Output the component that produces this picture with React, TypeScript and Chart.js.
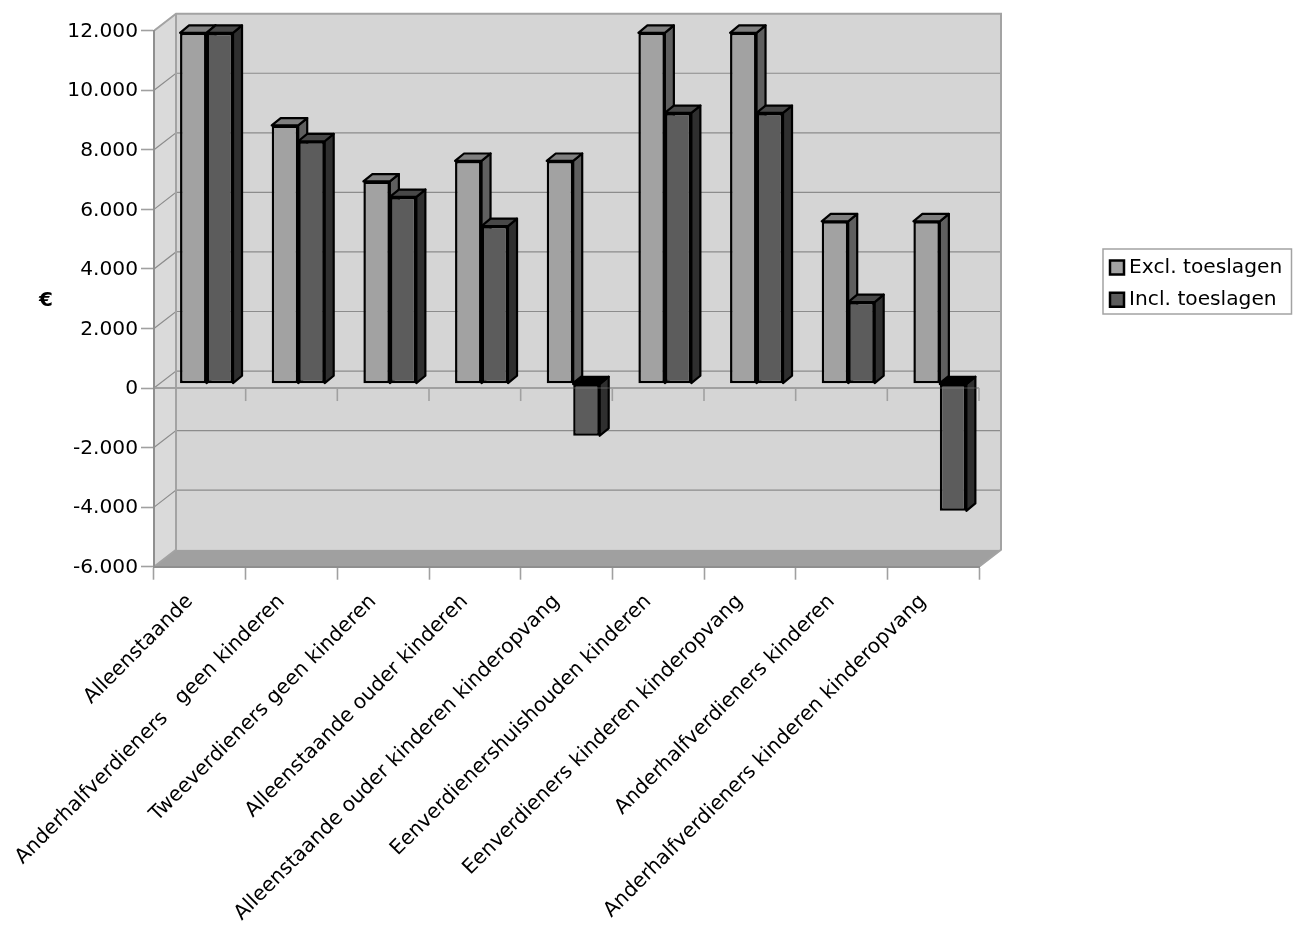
import React, { useEffect, useRef } from "react";
import { Chart, registerables } from "chart.js";

Chart.register(...registerables);

const categories = [
  "Alleenstaande",
  "Anderhalfverdieners   geen kinderen",
  "Tweeverdieners geen kinderen",
  "Alleenstaande ouder kinderen",
  "Alleenstaande ouder kinderen kinderopvang",
  "Eenverdienershuishouden kinderen",
  "Eenverdieners kinderen kinderopvang",
  "Anderhalfverdieners kinderen",
  "Anderhalfverdieners kinderen kinderopvang",
];
const exclToeslagen = [11780, 8670, 6790, 7480, 7480, 11780, 11780, 5450, 5450];
const inclToeslagen = [11780, 8140, 6270, 5290, -1750, 9090, 9090, 2740, -4270];
const axisTitle = "€";

const FONT = "'DejaVu Sans', Verdana, sans-serif";
const WALL_DX = 22;
const WALL_DY = -17;
const BAR_DX = 6.7;
const BAR_DY = -4.4;
const DEPTH_DX = 9;
const DEPTH_DY = -7.4;

const faces: Record<string, { side: string; top: string; negTop: string }> = {
  "Excl. toeslagen": { side: "#5f5f5f", top: "#7f7f7f", negTop: "#000000" },
  "Incl. toeslagen": { side: "#2f2f2f", top: "#484848", negTop: "#000000" },
};

function poly(ctx: CanvasRenderingContext2D, pts: number[][], fill: string, stroke?: string, lw = 1) {
  ctx.beginPath();
  pts.forEach((p, i) => (i ? ctx.lineTo(p[0], p[1]) : ctx.moveTo(p[0], p[1])));
  ctx.closePath();
  ctx.fillStyle = fill;
  ctx.fill();
  if (stroke) {
    ctx.strokeStyle = stroke;
    ctx.lineWidth = lw;
    ctx.lineJoin = "round";
    ctx.stroke();
  }
}

function seg(ctx: CanvasRenderingContext2D, pts: number[][], color: string, lw: number) {
  ctx.beginPath();
  pts.forEach((p, i) => (i ? ctx.lineTo(p[0], p[1]) : ctx.moveTo(p[0], p[1])));
  ctx.strokeStyle = color;
  ctx.lineWidth = lw;
  ctx.stroke();
}

const box3d = {
  id: "box3d",
  beforeDraw(chart: any) {
    const { ctx, chartArea: a, scales, legend } = chart;
    const y = scales.y;
    const x = scales.x;
    // legend placed in the free margin to the right of the plot
    legend.left = 1103;
    legend.right = 1292;
    legend.top = 245.5;
    legend.bottom = 330;
    ctx.save();
    const L = a.left, R = a.right, T = a.top, B = a.bottom;
    // back wall, side wall, floor
    poly(ctx, [[L + WALL_DX, T + WALL_DY], [R + WALL_DX, T + WALL_DY], [R + WALL_DX, B + WALL_DY], [L + WALL_DX, B + WALL_DY]], "#d5d5d5");
    poly(ctx, [[L, T], [L + WALL_DX, T + WALL_DY], [L + WALL_DX, B + WALL_DY], [L, B]], "#dadada");
    poly(ctx, [[L, B], [L + WALL_DX, B + WALL_DY], [R + WALL_DX, B + WALL_DY], [R, B]], "#a0a0a0");
    // grid lines
    y.ticks.forEach((t: any) => {
      if (t.value === y.min || t.value === y.max) return;
      const py = y.getPixelForValue(t.value);
      seg(ctx, [[L, py], [L + WALL_DX, py + WALL_DY], [R + WALL_DX, py + WALL_DY]], "#8c8c8c", 1.2);
    });
    // wall outline
    seg(ctx, [[L, T], [L + WALL_DX, T + WALL_DY], [R + WALL_DX, T + WALL_DY], [R + WALL_DX, B + WALL_DY], [R, B]], "#a3a3a3", 2);
    seg(ctx, [[L + WALL_DX, T + WALL_DY], [L + WALL_DX, B + WALL_DY], [L, B]], "#a3a3a3", 2);
    // zero line and its ticks
    const zero = y.getPixelForValue(0);
    seg(ctx, [[L, zero], [R, zero]], "#a0a0a0", 2);
    const step = (R - L) / categories.length;
    for (let i = 1; i <= categories.length; i++) {
      const px = x.getPixelForValue(i - 1) + step / 2;
      seg(ctx, [[px, zero], [px, zero + 13]], "#a0a0a0", 1.6);
    }
    ctx.restore();
    // legend frame
    ctx.save();
    ctx.strokeStyle = "#a3a3a3";
    ctx.lineWidth = 1.5;
    ctx.strokeRect(1103, 249, 188.5, 65);
    ctx.restore();
    // unrotated value-axis caption
    ctx.save();
    ctx.font = "bold 20px " + FONT;
    ctx.fillStyle = "#000";
    ctx.textAlign = "center";
    ctx.textBaseline = "middle";
    ctx.fillText(axisTitle, 46, 301);
    ctx.restore();
  },
  beforeDatasetsDraw(chart: any) {
    // draw left-hand series first so the right-hand one covers its side face
    const { ctx } = chart;
    const metas = chart.getSortedVisibleDatasetMetas();
    metas.forEach((meta: any) => {
      const ds = chart.data.datasets[meta.index];
      const f = faces[ds.label];
      ctx.save();
      ctx.translate(BAR_DX, BAR_DY);
      meta.data.forEach((el: any, i: number) => {
        const { x, y, base, width } = el.getProps(["x", "y", "base", "width"], true);
        const yt = Math.min(y, base);
        const yb = Math.max(y, base);
        const xl = x - width / 2;
        const xr = x + width / 2;
        const isNeg = ds.data[i] < 0;
        poly(ctx, [[xr, yt], [xr + DEPTH_DX, yt + DEPTH_DY], [xr + DEPTH_DX, yb + DEPTH_DY], [xr, yb]], f.side, "#000", 2.2);
        poly(ctx, [[xl, yt], [xl + DEPTH_DX, yt + DEPTH_DY], [xr + DEPTH_DX, yt + DEPTH_DY], [xr, yt]], isNeg ? f.negTop : f.top, "#000", 2.2);
      });
      meta.controller.draw();
      ctx.restore();
    });
  },
  beforeDatasetDraw() {
    return false;
  },
  afterDatasetsDraw(chart: any) {
    const { ctx, chartArea: a, scales } = chart;
    const zero = scales.y.getPixelForValue(0);
    ctx.save();
    ctx.globalAlpha = 0.22;
    seg(ctx, [[a.left, zero], [a.right, zero]], "#a0a0a0", 2);
    ctx.restore();
  },
};

export default function App() {
  const ref = useRef<HTMLCanvasElement | null>(null);
  useEffect(() => {
    const chart = new Chart(ref.current as HTMLCanvasElement, {
      type: "bar",
      data: {
        labels: categories,
        datasets: [
          {
            label: "Excl. toeslagen",
            data: exclToeslagen,
            backgroundColor: "#a2a2a2",
            borderColor: "#000000",
            borderWidth: 2.5,
            borderSkipped: false,
          },
          {
            label: "Incl. toeslagen",
            data: inclToeslagen,
            backgroundColor: "#5c5c5c",
            borderColor: "#000000",
            borderWidth: 2.5,
            borderSkipped: false,
          },
        ] as any,
      },
      options: {
        responsive: false,
        animation: false,
        maintainAspectRatio: false,
        layout: { padding: { left: 0, top: 30.7, right: 320, bottom: 0 } },
        datasets: { bar: { categoryPercentage: 0.578, barPercentage: 1 } },
        plugins: {
          tooltip: { enabled: false },
          legend: {
            position: "chartArea" as any,
            align: "start",
            labels: {
              usePointStyle: true,
              pointStyle: "rect",
              boxWidth: 4,
              boxHeight: 14,
              padding: 12,
              color: "#000",
              font: { family: FONT, size: 20.2 },
            },
          },
        },
        scales: {
          x: {
            grid: {
              display: true,
              drawOnChartArea: false,
              drawTicks: true,
              tickLength: 13,
              tickColor: "#a0a0a0",
              tickWidth: 1.6,
            },
            border: { color: "#8f8f8f", width: 2 },
            ticks: {
              autoSkip: false,
              minRotation: 45,
              maxRotation: 45,
              padding: 10,
              labelOffset: -10,
              color: "#000",
              font: { family: FONT, size: 20.3 },
            },
            afterFit(scale: any) {
              scale.height = 376.3;
              scale.paddingLeft = 0;
              scale.paddingRight = 0;
            },
          },
          y: {
            min: -6000,
            max: 12000,
            grid: {
              display: true,
              drawOnChartArea: false,
              drawTicks: true,
              tickLength: 13,
              tickColor: "#a0a0a0",
              tickWidth: 1.6,
            },
            border: { color: "#8f8f8f", width: 2 },
            ticks: {
              stepSize: 2000,
              padding: 3,
              labelOffset: 1,
              color: "#000",
              font: { family: FONT, size: 20.2 },
              callback: (v: any) => {
                const n = Number(v);
                const s = String(Math.abs(n)).replace(/\B(?=(\d{3})+$)/g, ".");
                return (n < 0 ? "-" : "") + s;
              },
            },
            afterFit(scale: any) {
              scale.width = 154;
              scale.paddingTop = 0;
              scale.paddingBottom = 0;
            },
          },
        },
      },
      plugins: [box3d as any],
    });
    return () => chart.destroy();
  }, []);
  return (
    <canvas
      ref={ref}
      width={1299}
      height={943}
      style={{ position: "absolute", left: 0, top: 0, display: "block" }}
    />
  );
}
